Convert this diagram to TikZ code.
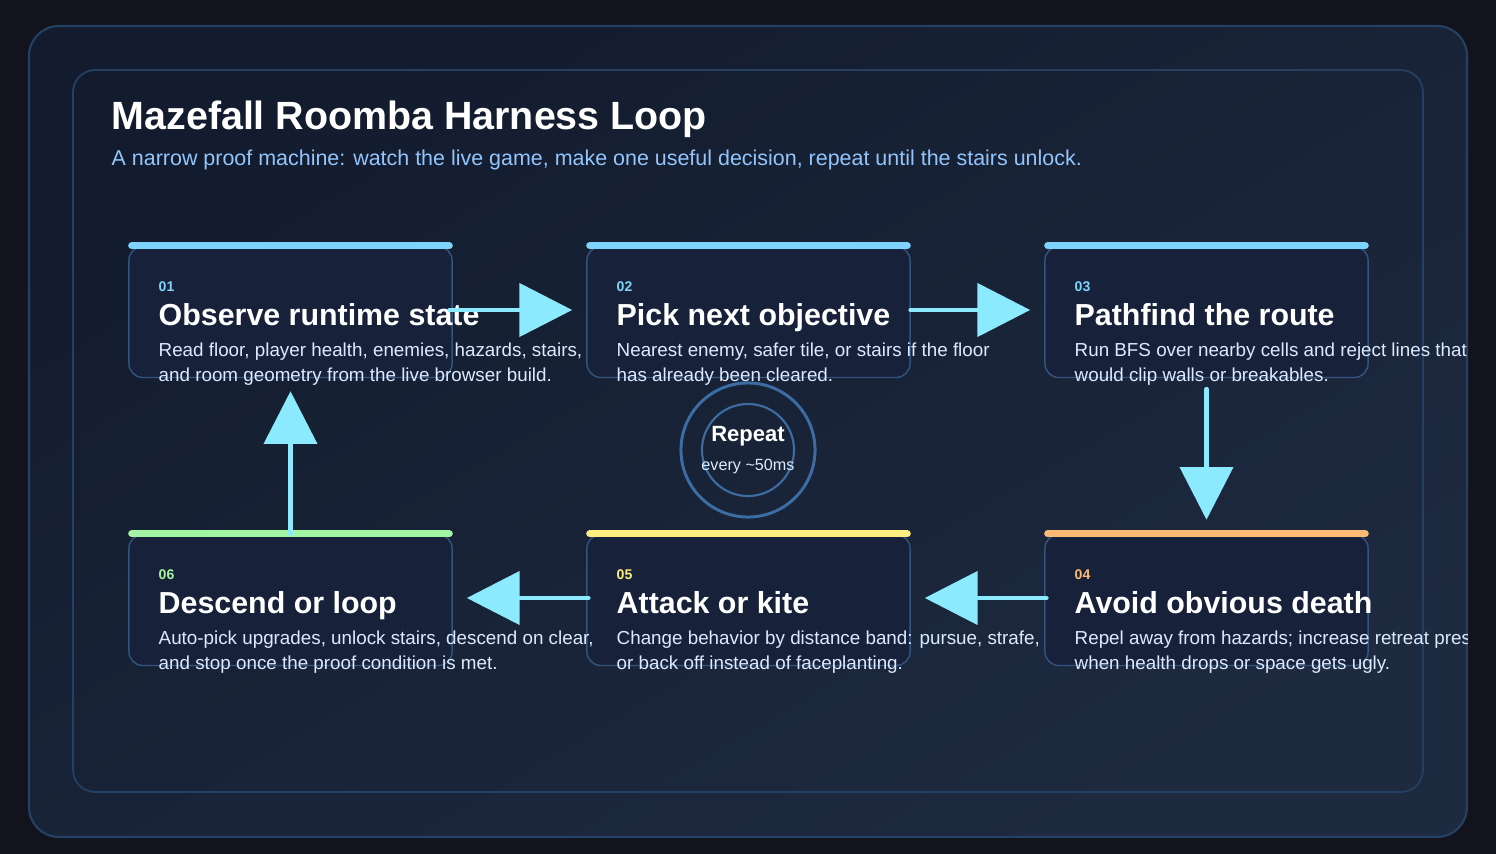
\documentclass[tikz,border=0pt]{standalone}
\usepackage{fontspec}
\setmainfont{Liberation Sans}
\usetikzlibrary{arrows.meta,calc}
\definecolor{MRbg}{RGB}{19,19,29}
\definecolor{MRpanel}{RGB}{19,28,46}
\definecolor{MRpanelB}{RGB}{30,42,64}
\definecolor{MRedge}{RGB}{36,64,99}
\definecolor{MRcard}{RGB}{23,34,58}
\definecolor{MRcardedge}{RGB}{50,84,126}
\definecolor{MRsky}{RGB}{125,211,252}
\definecolor{MRorange}{RGB}{253,186,116}
\definecolor{MRyellow}{RGB}{253,238,130}
\definecolor{MRgreen}{RGB}{163,245,163}
\definecolor{MRarrow}{RGB}{140,234,255}
\definecolor{MRring}{RGB}{60,108,162}
\definecolor{MRsub}{RGB}{147,197,253}
\definecolor{MRbody}{RGB}{219,234,254}
\tikzset{
  card/.style={rounded corners=4pt,draw=MRcardedge,line width=0.4pt,fill=MRcard,
               minimum width=3.23cm,minimum height=1.31cm,inner sep=0pt},
  bar/.style={line width=2pt,line cap=round},
  num/.style={anchor=base west,inner sep=0pt,font=\fontsize{4pt}{5pt}\selectfont\bfseries},
  head/.style={anchor=base west,inner sep=0pt,text=white,
               font=\fontsize{8.64pt}{10pt}\selectfont\bfseries},
  body/.style={anchor=base west,inner sep=0pt,text=MRbody,align=left,
               font=\fontsize{5.35pt}{6.83pt}\selectfont},
  flow/.style={-{Triangle[length=15pt,width=15pt]},line width=1.4pt,draw=MRarrow,
               line cap=round},
  ring/.style={circle,draw=MRring,inner sep=0pt}
}
\begin{document}
\begin{tikzpicture}[x=0.01cm,y=-0.01cm]
  \useasboundingbox (0,0) rectangle (1496,854);
  \fill[MRbg] (0,0) rectangle (1496,854);
  % panels
  \path[draw=MRedge,line width=0.6pt,rounded corners=8.5pt,
        top color=MRpanel,bottom color=MRpanelB,shading angle=30]
        (29,26) rectangle (1467,837);
  \draw[MRedge,line width=0.5pt,rounded corners=6.3pt] (73,70) rectangle (1423,792);
  \node[anchor=base west,inner sep=0pt,text=white,
        font=\fontsize{11.2pt}{13pt}\selectfont\bfseries] (title) at (111,129)
        {Mazefall Roomba Harness Loop};
  \node[anchor=base west,inner sep=0pt,text=MRsub,
        font=\fontsize{6.1pt}{7pt}\selectfont] (sub) at (111,165)
        {A narrow proof machine: watch the live game, make one useful decision, repeat until the stairs unlock.};
  \begin{scope}
  \clip[rounded corners=8.5pt] (29,26) rectangle (1467,837);
  % cards
  \node[card] (c1) at (290.5,312) {};
  \node[card] (c2) at (748.5,312) {};
  \node[card] (c3) at (1206.5,312) {};
  \node[card] (c4) at (1206.5,600) {};
  \node[card] (c5) at (748.5,600) {};
  \node[card] (c6) at (290.5,600) {};
  \draw[bar,MRsky] ($(c1.north west)+(3.5,0)$) -- ($(c1.north east)+(-3.5,0)$);
  \draw[bar,MRsky] ($(c2.north west)+(3.5,0)$) -- ($(c2.north east)+(-3.5,0)$);
  \draw[bar,MRsky] ($(c3.north west)+(3.5,0)$) -- ($(c3.north east)+(-3.5,0)$);
  \draw[bar,MRorange] ($(c4.north west)+(3.5,0)$) -- ($(c4.north east)+(-3.5,0)$);
  \draw[bar,MRyellow] ($(c5.north west)+(3.5,0)$) -- ($(c5.north east)+(-3.5,0)$);
  \draw[bar,MRgreen] ($(c6.north west)+(3.5,0)$) -- ($(c6.north east)+(-3.5,0)$);
  % card texts (body anchored on its last line)
  \node[num,text=MRsky] (n1) at (158,291) {01};
  \node[head] (h1) at (158,325) {Observe runtime state};
  \node[body] (b1) at (158,381) {Read floor, player health, enemies, hazards, stairs,\\and room geometry from the live browser build.};
  \node[num,text=MRsky] (n2) at (616,291) {02};
  \node[head] (h2) at (616,325) {Pick next objective};
  \node[body] (b2) at (616,381) {Nearest enemy, safer tile, or stairs if the floor\\has already been cleared.};
  \node[num,text=MRsky] (n3) at (1074,291) {03};
  \node[head] (h3) at (1074,325) {Pathfind the route};
  \node[body] (b3) at (1074,381) {Run BFS over nearby cells and reject lines that\\would clip walls or breakables.};
  \node[num,text=MRorange] (n4) at (1074,579) {04};
  \node[head] (h4) at (1074,613) {Avoid obvious death};
  \node[body] (b4) at (1074,669) {Repel away from hazards; increase retreat pressure\\when health drops or space gets ugly.};
  \node[num,text=MRyellow] (n5) at (616,579) {05};
  \node[head] (h5) at (616,613) {Attack or kite};
  \node[body] (b5) at (616,669) {Change behavior by distance band: pursue, strafe,\\or back off instead of faceplanting.};
  \node[num,text=MRgreen] (n6) at (158,579) {06};
  \node[head] (h6) at (158,613) {Descend or loop};
  \node[body] (b6) at (158,669) {Auto-pick upgrades, unlock stairs, descend on clear,\\and stop once the proof condition is met.};
  % repeat badge
  \node[ring,line width=0.85pt,minimum size=1.34cm] (rep) at (748,450) {};
  \node[ring,line width=0.6pt,minimum size=0.92cm] (repin) at (748,450) {};
  \node[anchor=base,inner sep=0pt,text=white,
        font=\fontsize{6.26pt}{7pt}\selectfont\bfseries] (rept) at (748,441) {Repeat};
  \node[anchor=base,inner sep=0pt,text=MRbody,
        font=\fontsize{4.6pt}{5pt}\selectfont] (repn) at (748,470) {every \textasciitilde50ms};
  % loop arrows
  \draw[flow] ($(c1.east)+(-3,-2)$) -- ($(c2.west)+(-14,-2)$);
  \draw[flow] ($(c2.east)+(0,-2)$) -- ($(c3.west)+(-14,-2)$);
  \draw[flow] ($(c3.south)+(0,11)$) -- ($(c4.north)+(0,-14)$);
  \draw[flow] ($(c4.west)+(2,-2)$) -- ($(c5.east)+(14,-2)$);
  \draw[flow] ($(c5.west)+(2,-2)$) -- ($(c6.east)+(14,-2)$);
  \draw[flow] ($(c6.north)+(0,0)$) -- ($(c1.south)+(0,13)$);
  \end{scope}
\end{tikzpicture}
\end{document}
